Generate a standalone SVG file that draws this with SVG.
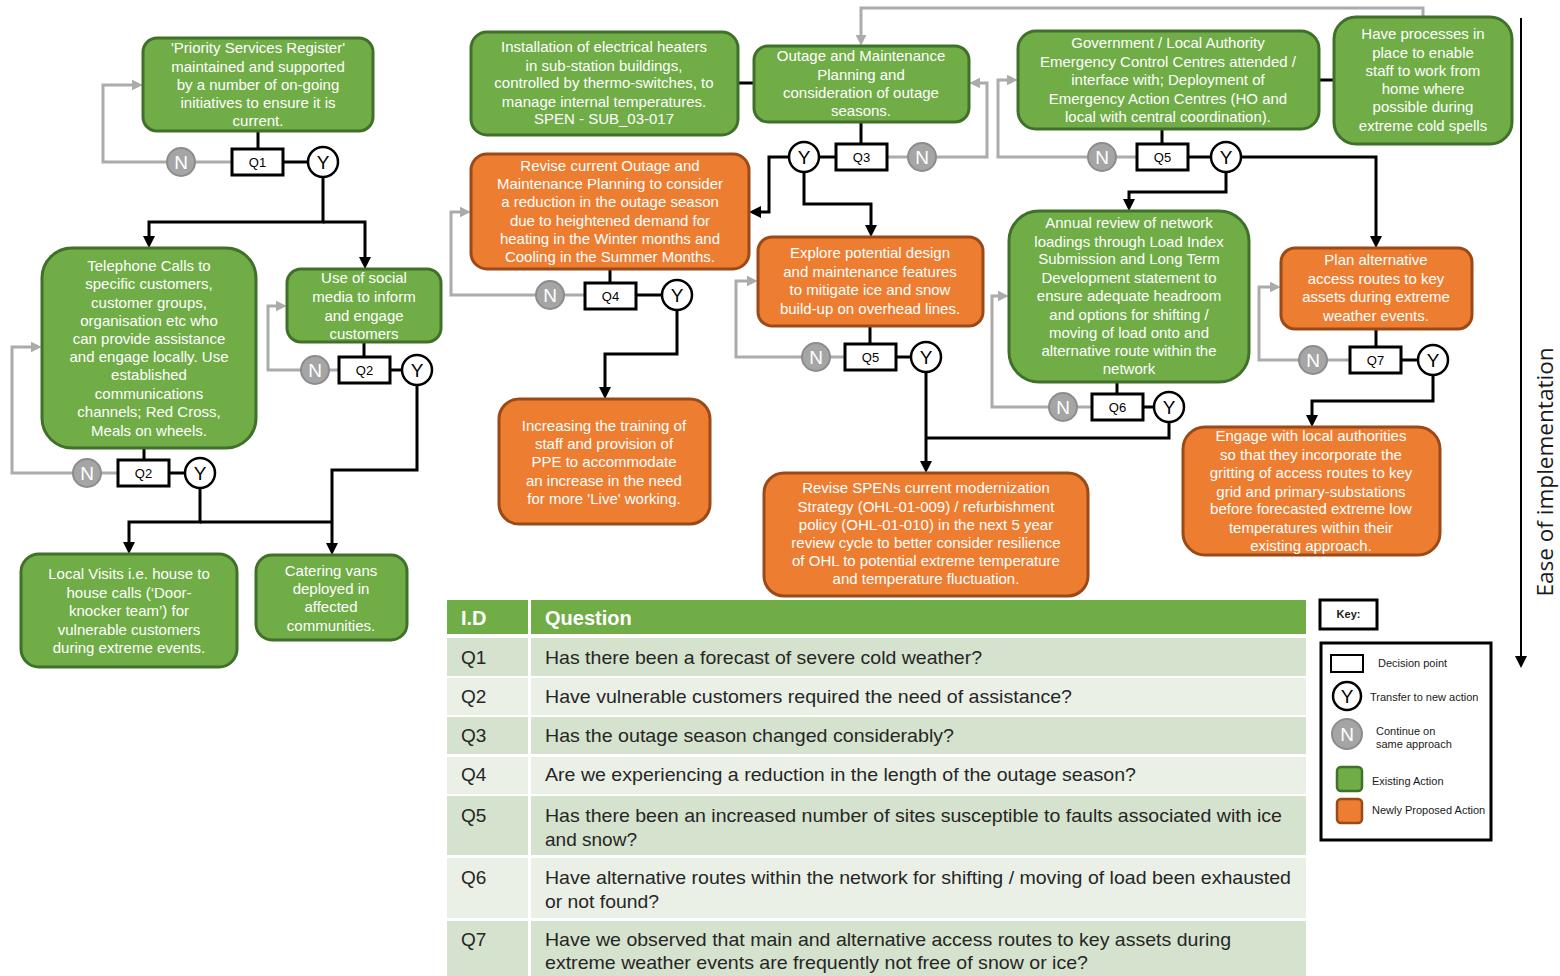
<svg xmlns="http://www.w3.org/2000/svg" width="1560" height="976" viewBox="0 0 1560 976">
  <defs>
    <style>
      .g{fill:#70AD47;stroke:#41702A;stroke-width:3}
      .o{fill:#ED7D31;stroke:#9B4A17;stroke-width:3}
      .t{font-family:"Liberation Sans",Arial,sans-serif;font-size:15px;fill:#FFFFFF;text-anchor:middle}
      .q{fill:#FFFFFF;stroke:#000;stroke-width:3}
      .ql{font-family:"Liberation Sans",Arial,sans-serif;font-size:13px;fill:#000;text-anchor:middle}
      .yc{fill:#FFFFFF;stroke:#000;stroke-width:2.5}
      .yl{font-family:"Liberation Sans",Arial,sans-serif;font-size:19px;fill:#000;text-anchor:middle}
      .nc{fill:#A5A5A5;stroke:#8C8C8C;stroke-width:2}
      .nl{font-family:"Liberation Sans",Arial,sans-serif;font-size:19px;fill:#FFFFFF;text-anchor:middle}
      .k{fill:none;stroke:#000;stroke-width:3}
      .ka{fill:none;stroke:#000;stroke-width:3;marker-end:url(#ah)}
      .gr{fill:none;stroke:#ABABAB;stroke-width:3}
      .gra{fill:none;stroke:#ABABAB;stroke-width:3;marker-end:url(#ahg)}
      .th{font-family:"Liberation Sans",Arial,sans-serif;font-size:20px;font-weight:bold;fill:#FFFFFF}
      .td{font-family:"Liberation Sans",Arial,sans-serif;font-size:19px;fill:#262626}
      .kt{font-family:"Liberation Sans",Arial,sans-serif;font-size:11px;fill:#1A1A1A}
    </style>
    <marker id="ah" viewBox="0 0 12 12" refX="4" refY="6" markerWidth="12" markerHeight="12" markerUnits="userSpaceOnUse" orient="auto">
      <path d="M0,0 L12,6 L0,12 z" fill="#000"/>
    </marker>
    <marker id="ahg" viewBox="0 0 10 10" refX="3" refY="5" markerWidth="11" markerHeight="11" markerUnits="userSpaceOnUse" orient="auto">
      <path d="M0,0 L10,5 L0,10 z" fill="#ABABAB"/>
    </marker>
  </defs>

  <rect width="1560" height="976" fill="#FFFFFF"/>

  <!-- connectors -->
  <g id="connectors">
    <!-- yes / flow links -->
    <path class="k" d="M258,131 V149"/>
    <path class="k" d="M283,162 H308"/>
    <path class="ka" d="M323,177 V222 H149 V240"/>
    <path class="ka" d="M323,222 H365 V261"/>
    <path class="k" d="M144,448 V460"/>
    <path class="k" d="M169,473 H185"/>
    <path class="ka" d="M200,488 V522 H129 V546"/>
    <path class="k" d="M200,522 H332"/>
    <path class="k" d="M364,342 V357"/>
    <path class="k" d="M390,370 H401"/>
    <path class="ka" d="M417,385 V470 H332 V547"/>
    <path class="k" d="M738,83 H754"/>
    <path class="k" d="M861,122 V144"/>
    <path class="k" d="M836,157 H819"/>
    <path class="ka" d="M789,157 H769 V212 H757"/>
    <path class="ka" d="M804,172 V204 H871 V229"/>
    <path class="k" d="M610,269 V283"/>
    <path class="k" d="M636,295 H662"/>
    <path class="ka" d="M677,310 V354 H605 V391"/>
    <path class="k" d="M870,326 V344"/>
    <path class="k" d="M896,357 H911"/>
    <path class="ka" d="M926,372 V465"/>
    <path class="k" d="M1169,422 V438 H926"/>
    <path class="k" d="M1162,129 V144"/>
    <path class="k" d="M1188,157 H1211"/>
    <path class="k" d="M1319,80 H1334"/>
    <path class="ka" d="M1241,157 H1376 V240"/>
    <path class="ka" d="M1226,172 V192 H1129 V203"/>
    <path class="k" d="M1117,382 V394"/>
    <path class="k" d="M1143,407 H1154"/>
    <path class="k" d="M1376,329 V347"/>
    <path class="k" d="M1402,360 H1418"/>
    <path class="ka" d="M1433,375 V401 H1312 V419"/>

    <!-- no / loop-back links -->
    <path class="gr" d="M232,162 H181"/>
    <path class="gra" d="M167,162 H103 V85 H135"/>
    <path class="gr" d="M117,473 H87"/>
    <path class="gra" d="M73,473 H12 V347 H34"/>
    <path class="gr" d="M339,370 H315"/>
    <path class="gra" d="M301,370 H268 V306 H279"/>
    <path class="gr" d="M887,157 H922"/>
    <path class="gra" d="M936,157 H987 V83 H977"/>
    <path class="gra" d="M1423,17 V8 H861 V38"/>
    <path class="gr" d="M585,295 H550"/>
    <path class="gra" d="M536,295 H451 V212 H463"/>
    <path class="gr" d="M845,357 H816"/>
    <path class="gra" d="M802,357 H736 V281 H750"/>
    <path class="gr" d="M1137,157 H1102"/>
    <path class="gra" d="M1088,157 H998 V80 H1010"/>
    <path class="gr" d="M1092,407 H1063"/>
    <path class="gra" d="M1049,407 H992 V296 H1001"/>
    <path class="gr" d="M1350,360 H1313"/>
    <path class="gra" d="M1299,360 H1259 V287 H1273"/>

    <!-- ease of implementation axis -->
    <path d="M1521,18 V660" fill="none" stroke="#000" stroke-width="2" marker-end="url(#ah)"/>
  </g>

  <!-- action nodes -->
  <g id="n-psr">
    <rect class="g" x="143" y="38" width="230" height="93" rx="14"/>
    <text class="t" x="258" y="53">'Priority Services Register'</text>
    <text class="t" x="258" y="72">maintained and supported</text>
    <text class="t" x="258" y="90">by a number of on-going</text>
    <text class="t" x="258" y="108">initiatives to ensure it is</text>
    <text class="t" x="258" y="126">current.</text>
  </g>
  <g id="n-telephone">
    <rect class="g" x="42" y="248" width="214" height="200" rx="30"/>
    <text class="t" x="149" y="271">Telephone Calls to</text>
    <text class="t" x="149" y="289">specific customers,</text>
    <text class="t" x="149" y="308">customer groups,</text>
    <text class="t" x="149" y="326">organisation etc who</text>
    <text class="t" x="149" y="344">can provide assistance</text>
    <text class="t" x="149" y="362">and engage locally. Use</text>
    <text class="t" x="149" y="380">established</text>
    <text class="t" x="149" y="399">communications</text>
    <text class="t" x="149" y="417">channels; Red Cross,</text>
    <text class="t" x="149" y="436">Meals on wheels.</text>
  </g>
  <g id="n-social">
    <rect class="g" x="287" y="269" width="154" height="73" rx="14"/>
    <text class="t" x="364" y="283">Use of social</text>
    <text class="t" x="364" y="302">media to inform</text>
    <text class="t" x="364" y="321">and engage</text>
    <text class="t" x="364" y="339">customers</text>
  </g>
  <g id="n-local-visits">
    <rect class="g" x="21" y="554" width="216" height="113" rx="18"/>
    <text class="t" x="129" y="579">Local Visits i.e. house to</text>
    <text class="t" x="129" y="598">house calls (‘Door-</text>
    <text class="t" x="129" y="616">knocker team’) for</text>
    <text class="t" x="129" y="635">vulnerable customers</text>
    <text class="t" x="129" y="653">during extreme events.</text>
  </g>
  <g id="n-catering">
    <rect class="g" x="256" y="555" width="151" height="85" rx="16"/>
    <text class="t" x="331" y="576">Catering vans</text>
    <text class="t" x="331" y="594">deployed in</text>
    <text class="t" x="331" y="612">affected</text>
    <text class="t" x="331" y="631">communities.</text>
  </g>
  <g id="n-heaters">
    <rect class="g" x="471" y="32" width="267" height="103" rx="16"/>
    <text class="t" x="604" y="52">Installation  of electrical heaters</text>
    <text class="t" x="604" y="71">in sub-station buildings,</text>
    <text class="t" x="604" y="88">controlled by thermo-switches, to</text>
    <text class="t" x="604" y="107">manage internal temperatures.</text>
    <text class="t" x="604" y="124">SPEN - SUB_03-017</text>
  </g>
  <g id="n-outage">
    <rect class="g" x="754" y="46" width="215" height="76" rx="14"/>
    <text class="t" x="861" y="61">Outage and Maintenance</text>
    <text class="t" x="861" y="80">Planning and</text>
    <text class="t" x="861" y="98">consideration of outage</text>
    <text class="t" x="861" y="116">seasons.</text>
  </g>
  <g id="n-revise-outage">
    <rect class="o" x="471" y="154" width="278" height="115" rx="16"/>
    <text class="t" x="610" y="171">Revise current Outage and</text>
    <text class="t" x="610" y="189">Maintenance Planning to consider</text>
    <text class="t" x="610" y="207">a reduction in the outage season</text>
    <text class="t" x="610" y="226">due to heightened demand for</text>
    <text class="t" x="610" y="244">heating in the Winter months and</text>
    <text class="t" x="610" y="262">Cooling in the Summer Months.</text>
  </g>
  <g id="n-training">
    <rect class="o" x="499" y="399" width="211" height="125" rx="20"/>
    <text class="t" x="604" y="431">Increasing the training of</text>
    <text class="t" x="604" y="449">staff and provision of</text>
    <text class="t" x="604" y="467">PPE to accommodate</text>
    <text class="t" x="604" y="486">an increase in the need</text>
    <text class="t" x="604" y="504">for more 'Live' working.</text>
  </g>
  <g id="n-explore">
    <rect class="o" x="758" y="237" width="225" height="89" rx="14"/>
    <text class="t" x="870" y="258">Explore potential design</text>
    <text class="t" x="870" y="277">and maintenance features</text>
    <text class="t" x="870" y="295">to mitigate ice and snow</text>
    <text class="t" x="870" y="314">build-up on overhead lines.</text>
  </g>
  <g id="n-spens">
    <rect class="o" x="764" y="473" width="324" height="123" rx="20"/>
    <text class="t" x="926" y="493">Revise SPENs current modernization</text>
    <text class="t" x="926" y="512">Strategy (OHL-01-009) / refurbishment</text>
    <text class="t" x="926" y="530">policy (OHL-01-010) in the next 5 year</text>
    <text class="t" x="926" y="548">review cycle  to better consider resilience</text>
    <text class="t" x="926" y="566">of OHL to potential extreme temperature</text>
    <text class="t" x="926" y="584">and temperature fluctuation.</text>
  </g>
  <g id="n-government">
    <rect class="g" x="1018" y="31" width="301" height="98" rx="18"/>
    <text class="t" x="1168" y="48">Government / Local Authority</text>
    <text class="t" x="1168" y="67">Emergency Control Centres attended /</text>
    <text class="t" x="1168" y="85">interface with; Deployment of</text>
    <text class="t" x="1168" y="104">Emergency Action Centres (HO and</text>
    <text class="t" x="1168" y="122">local with central coordination).</text>
  </g>
  <g id="n-home-working">
    <rect class="g" x="1334" y="17" width="178" height="127" rx="22"/>
    <text class="t" x="1423" y="39">Have processes in</text>
    <text class="t" x="1423" y="58">place to enable</text>
    <text class="t" x="1423" y="76">staff to work from</text>
    <text class="t" x="1423" y="94">home where</text>
    <text class="t" x="1423" y="112">possible during</text>
    <text class="t" x="1423" y="131">extreme cold spells</text>
  </g>
  <g id="n-annual-review">
    <rect class="g" x="1009" y="211" width="240" height="171" rx="30"/>
    <text class="t" x="1129" y="228">Annual review of network</text>
    <text class="t" x="1129" y="247">loadings through Load Index</text>
    <text class="t" x="1129" y="264">Submission and Long Term</text>
    <text class="t" x="1129" y="283">Development statement to</text>
    <text class="t" x="1129" y="301">ensure adequate headroom</text>
    <text class="t" x="1129" y="320">and options for shifting /</text>
    <text class="t" x="1129" y="338">moving of load onto and</text>
    <text class="t" x="1129" y="356">alternative route within the</text>
    <text class="t" x="1129" y="374">network</text>
  </g>
  <g id="n-plan-routes">
    <rect class="o" x="1281" y="248" width="191" height="81" rx="14"/>
    <text class="t" x="1376" y="265">Plan alternative</text>
    <text class="t" x="1376" y="284">access routes to key</text>
    <text class="t" x="1376" y="302">assets during extreme</text>
    <text class="t" x="1376" y="321">weather events.</text>
  </g>
  <g id="n-engage">
    <rect class="o" x="1183" y="427" width="257" height="128" rx="22"/>
    <text class="t" x="1311" y="441">Engage with local authorities</text>
    <text class="t" x="1311" y="460">so that they incorporate the</text>
    <text class="t" x="1311" y="478">gritting of access routes to key</text>
    <text class="t" x="1311" y="497">grid and primary-substations</text>
    <text class="t" x="1311" y="514">before forecasted extreme low</text>
    <text class="t" x="1311" y="533">temperatures within their</text>
    <text class="t" x="1311" y="551">existing approach.</text>
  </g>

  <!-- decision points -->
  <g id="d-q1"><rect class="q" x="232" y="149" width="51" height="26"/><text class="ql" x="257.5" y="167">Q1</text></g>
  <g id="d-q2a"><rect class="q" x="118" y="460" width="51" height="26"/><text class="ql" x="143.5" y="478">Q2</text></g>
  <g id="d-q2b"><rect class="q" x="339" y="357" width="51" height="26"/><text class="ql" x="364.5" y="375">Q2</text></g>
  <g id="d-q3"><rect class="q" x="836" y="144" width="51" height="26"/><text class="ql" x="861.5" y="162">Q3</text></g>
  <g id="d-q4"><rect class="q" x="585" y="283" width="51" height="26"/><text class="ql" x="610.5" y="301">Q4</text></g>
  <g id="d-q5a"><rect class="q" x="845" y="344" width="51" height="26"/><text class="ql" x="870.5" y="362">Q5</text></g>
  <g id="d-q5b"><rect class="q" x="1137" y="144" width="51" height="26"/><text class="ql" x="1162.5" y="162">Q5</text></g>
  <g id="d-q6"><rect class="q" x="1092" y="394" width="51" height="26"/><text class="ql" x="1117.5" y="412">Q6</text></g>
  <g id="d-q7"><rect class="q" x="1350" y="347" width="51" height="26"/><text class="ql" x="1375.5" y="365">Q7</text></g>

  <!-- yes markers -->
  <g id="y-q1"><circle class="yc" cx="323" cy="162" r="15"/><text class="yl" x="323" y="169">Y</text></g>
  <g id="y-q2a"><circle class="yc" cx="200" cy="473" r="15"/><text class="yl" x="200" y="480">Y</text></g>
  <g id="y-q2b"><circle class="yc" cx="417" cy="370" r="15"/><text class="yl" x="417" y="377">Y</text></g>
  <g id="y-q3"><circle class="yc" cx="804" cy="157" r="15"/><text class="yl" x="804" y="164">Y</text></g>
  <g id="y-q4"><circle class="yc" cx="677" cy="295" r="15"/><text class="yl" x="677" y="302">Y</text></g>
  <g id="y-q5a"><circle class="yc" cx="926" cy="357" r="15"/><text class="yl" x="926" y="364">Y</text></g>
  <g id="y-q5b"><circle class="yc" cx="1226" cy="157" r="15"/><text class="yl" x="1226" y="164">Y</text></g>
  <g id="y-q6"><circle class="yc" cx="1169" cy="407" r="15"/><text class="yl" x="1169" y="414">Y</text></g>
  <g id="y-q7"><circle class="yc" cx="1433" cy="360" r="15"/><text class="yl" x="1433" y="367">Y</text></g>

  <!-- no markers -->
  <g id="n-q1"><circle class="nc" cx="181" cy="162" r="14"/><text class="nl" x="181" y="169">N</text></g>
  <g id="n-q2a"><circle class="nc" cx="87" cy="473" r="14"/><text class="nl" x="87" y="480">N</text></g>
  <g id="n-q2b"><circle class="nc" cx="315" cy="370" r="14"/><text class="nl" x="315" y="377">N</text></g>
  <g id="n-q3"><circle class="nc" cx="922" cy="157" r="14"/><text class="nl" x="922" y="164">N</text></g>
  <g id="n-q4"><circle class="nc" cx="550" cy="295" r="14"/><text class="nl" x="550" y="302">N</text></g>
  <g id="n-q5a"><circle class="nc" cx="816" cy="357" r="14"/><text class="nl" x="816" y="364">N</text></g>
  <g id="n-q5b"><circle class="nc" cx="1102" cy="157" r="14"/><text class="nl" x="1102" y="164">N</text></g>
  <g id="n-q6"><circle class="nc" cx="1063" cy="407" r="14"/><text class="nl" x="1063" y="414">N</text></g>
  <g id="n-q7"><circle class="nc" cx="1313" cy="360" r="14"/><text class="nl" x="1313" y="367">N</text></g>

  <!-- axis label -->
  <text transform="translate(1553,472) rotate(-90)" font-family="'Open Sans','DejaVu Sans',sans-serif" font-size="22" fill="#1A1A1A" text-anchor="middle" textLength="249" lengthAdjust="spacingAndGlyphs">Ease of implementation</text>

  <!-- question table -->
  <g id="question-table">
    <rect x="447" y="600" width="859" height="34" fill="#70AD47"/>
    <rect x="447" y="638" width="859" height="38" fill="#D5E2CD"/>
    <rect x="447" y="678" width="859" height="37" fill="#EAF0E6"/>
    <rect x="447" y="717" width="859" height="37" fill="#D5E2CD"/>
    <rect x="447" y="757" width="859" height="37" fill="#EAF0E6"/>
    <rect x="447" y="796" width="859" height="59" fill="#D5E2CD"/>
    <rect x="447" y="858" width="859" height="60" fill="#EAF0E6"/>
    <rect x="447" y="921" width="859" height="55" fill="#D5E2CD"/>
    <rect x="528" y="600" width="3" height="376" fill="#FFFFFF"/>
    <text class="th" x="461" y="625">I.D</text>
    <text class="th" x="545" y="625">Question</text>
    <text class="td" x="461" y="664">Q1</text>
    <text class="td" x="545" y="664" textLength="437" lengthAdjust="spacingAndGlyphs">Has there been a forecast of severe cold weather?</text>
    <text class="td" x="461" y="703">Q2</text>
    <text class="td" x="545" y="703" textLength="527" lengthAdjust="spacingAndGlyphs">Have vulnerable customers required the need of assistance?</text>
    <text class="td" x="461" y="742">Q3</text>
    <text class="td" x="545" y="742" textLength="409" lengthAdjust="spacingAndGlyphs">Has the outage season changed considerably?</text>
    <text class="td" x="461" y="781">Q4</text>
    <text class="td" x="545" y="781" textLength="591" lengthAdjust="spacingAndGlyphs">Are we experiencing a reduction in the length of the outage season?</text>
    <text class="td" x="461" y="822">Q5</text>
    <text class="td" x="545" y="822" textLength="737" lengthAdjust="spacingAndGlyphs">Has there been an increased number of sites susceptible to faults associated with ice</text>
    <text class="td" x="545" y="846" textLength="92" lengthAdjust="spacingAndGlyphs">and snow?</text>
    <text class="td" x="461" y="884">Q6</text>
    <text class="td" x="545" y="884" textLength="746" lengthAdjust="spacingAndGlyphs">Have alternative routes within the network for shifting / moving of load been exhausted</text>
    <text class="td" x="545" y="908" textLength="114" lengthAdjust="spacingAndGlyphs">or not found?</text>
    <text class="td" x="461" y="946">Q7</text>
    <text class="td" x="545" y="946" textLength="686" lengthAdjust="spacingAndGlyphs">Have we observed that main and alternative access routes to key assets during</text>
    <text class="td" x="545" y="969" textLength="543" lengthAdjust="spacingAndGlyphs">extreme weather events are frequently not free of snow or ice?</text>
  </g>

  <!-- key -->
  <g id="key">
    <rect x="1320" y="600" width="57" height="29" fill="#FFFFFF" stroke="#000" stroke-width="3"/>
    <text x="1348.5" y="618" font-family="'Liberation Sans',Arial,sans-serif" font-size="11" font-weight="bold" fill="#1A1A1A" text-anchor="middle">Key:</text>
    <rect x="1321" y="643" width="170" height="197" fill="#FFFFFF" stroke="#000" stroke-width="3"/>
    <rect x="1331" y="655" width="32" height="17" fill="#FFFFFF" stroke="#000" stroke-width="2"/>
    <text class="kt" x="1378" y="667">Decision point</text>
    <circle class="yc" cx="1347" cy="696" r="14"/>
    <text class="yl" x="1347" y="703">Y</text>
    <text class="kt" x="1370" y="701">Transfer to new action</text>
    <circle class="nc" cx="1347" cy="734" r="15"/>
    <text class="nl" x="1347" y="741">N</text>
    <text class="kt" x="1376" y="735">Continue on</text>
    <text class="kt" x="1376" y="748">same approach</text>
    <rect x="1337" y="767" width="25" height="24" rx="4" fill="#70AD47" stroke="#41702A" stroke-width="2.5"/>
    <text class="kt" x="1372" y="785">Existing Action</text>
    <rect x="1337" y="799" width="25" height="24" rx="4" fill="#ED7D31" stroke="#9B4A17" stroke-width="2.5"/>
    <text class="kt" x="1372" y="814">Newly Proposed Action</text>
  </g>
</svg>
